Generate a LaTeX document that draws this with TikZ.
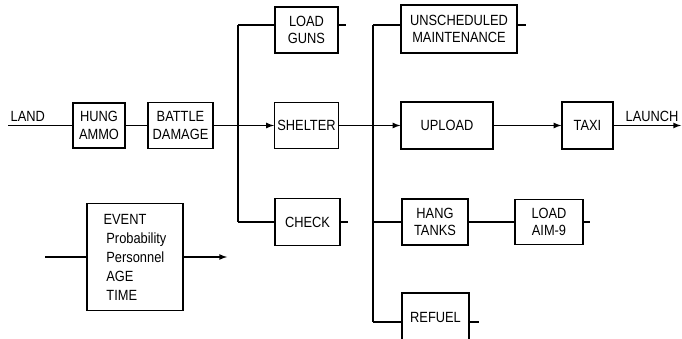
\documentclass[tikz,border=0pt]{standalone}
\usepackage{fontspec}
\setmainfont[FakeStretch=0.87]{Liberation Sans}
\usepackage{tikz}
\usetikzlibrary{shapes}
\usetikzlibrary{arrows}
\usetikzlibrary{calc}

\tikzset{
    task/.style={draw, line width=0.9pt, align=center, inner sep=2pt,
        font=\fontsize{10.5}{12.5}\selectfont},
    flow/.style={line width=0.9pt},
    >=latex
}

\begin{document}
\begin{tikzpicture}[x=0.025cm, y=-0.025cm]
    \useasboundingbox (0,0) rectangle (682,339);

    % main row
    \node[task, minimum width=1.3cm, minimum height=1.125cm] (hung) at (99,125.5) {HUNG\\AMMO};
    \node[task, minimum width=1.625cm, minimum height=1.15cm] (dmg) at (180.5,125.5) {BATTLE\\DAMAGE};
    \node[task, minimum width=1.575cm, minimum height=1.15cm] (guns) at (306.5,30) {LOAD\\GUNS};
    \node[task, minimum width=1.575cm, minimum height=1.15cm] (shelter) at (306.5,125.5) {SHELTER};
    \node[task, minimum width=1.625cm, minimum height=1.175cm] (check) at (307.5,222) {CHECK};
    \node[task, minimum width=2.9cm, minimum height=1.2cm] (unsched) at (459,29) {UNSCHEDULED\\MAINTENANCE};
    \node[task, minimum width=2.3cm, minimum height=1.175cm] (upload) at (447,125.5) {UPLOAD};
    \node[task, minimum width=1.275cm, minimum height=1.175cm] (taxi) at (587.5,125.5) {TAXI};
    \node[task, minimum width=1.65cm, minimum height=1.15cm] (tanks) at (435,222) {HANG\\TANKS};
    \node[task, minimum width=1.7cm, minimum height=1.125cm] (aim) at (549,222) {LOAD\\AIM-9};
    \node[task, minimum width=1.675cm, minimum height=1.2cm] (refuel) at (435.5,317) {REFUEL};

    % legend box
    \node[task, align=left, minimum width=2.4cm, minimum height=2.675cm,
        font=\fontsize{10.5}{13.5}\selectfont] (event) at (135,257) {EVENT\\
        \hspace{2pt}Probability\\
        \hspace{2pt}Personnel\\
        \hspace{2pt}AGE\\
        \hspace{2pt}TIME};

    \coordinate (landin) at (8,125.5);
    \coordinate (out) at (681,125.5);
    \coordinate (ja) at (238,25);
    \coordinate (jb) at (238,222);
    \coordinate (jc) at (373,25);
    \coordinate (jd) at (373,322);
    \coordinate (evin) at (45,257);
    \coordinate (evout) at (227,257);

    \node[font=\fontsize{10.5}{12.5}\selectfont, anchor=south west, inner sep=1pt] (land) at (9,123) {LAND};
    \node[font=\fontsize{10.5}{12.5}\selectfont, anchor=south west, inner sep=1pt] (launch) at (624,123) {LAUNCH};

\draw [flow] (landin) to (hung.west);
\draw [flow] (hung) to (dmg);
\draw [flow,->] (dmg) to (shelter);
\draw [flow] (ja) -- (jb);
\draw [flow] (ja) -- (ja -| guns.west);
\draw [flow] (jb) -- (check.west);
\draw [flow] (guns.east |- ja) -- ++(7,0);
\draw [flow] (check.east) -- ++(7,0);
\draw [flow,->] (shelter) to (upload);
\draw [flow] (jc) -- (jd);
\draw [flow] (jc) -- (jc -| unsched.west);
\draw [flow] (unsched.east |- jc) -- ++(8,0);
\draw [flow] (jc |- tanks) -- (tanks.west);
\draw [flow] (tanks) to (aim);
\draw [flow] (aim.east) -- ++(6,0);
\draw [flow] (jd) -- (jd -| refuel.west);
\draw [flow] (refuel.east |- jd) -- ++(9,0);
\draw [flow,->] (upload) to (taxi);
\draw [flow,->] (taxi) to (out);
\draw [flow] (evin) to (event.west);
\draw [flow,->] (event.east) to (evout);
\end{tikzpicture}
\end{document}
